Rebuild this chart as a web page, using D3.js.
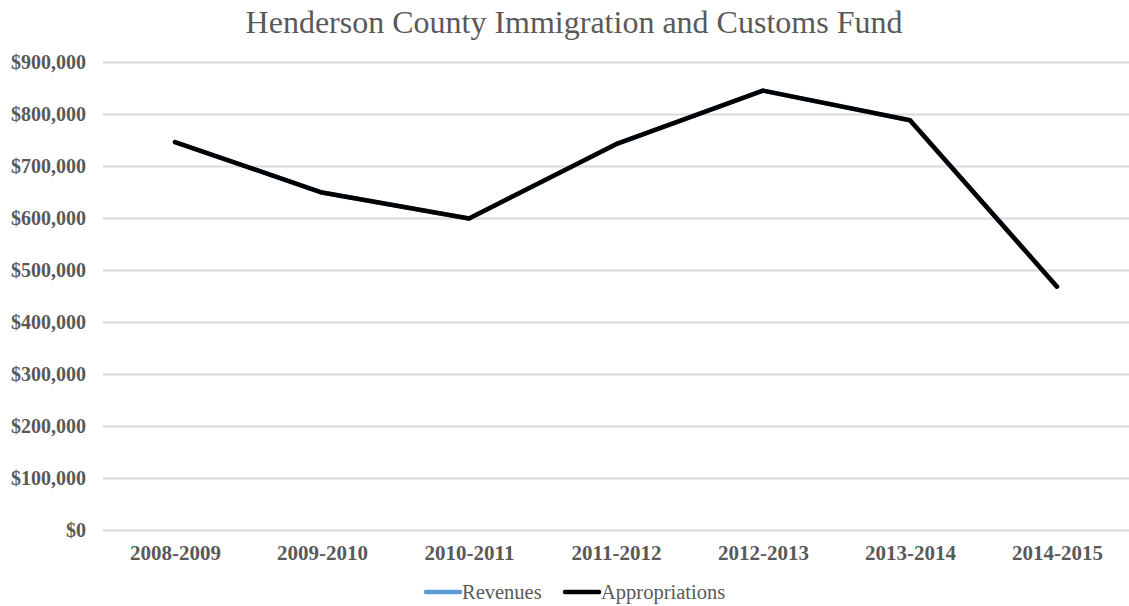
<!DOCTYPE html>
<html><head><meta charset="utf-8">
<script src="https://cdn.jsdelivr.net/npm/d3@7"></script>
<style>body{margin:0;background:#fff}</style>
</head><body>
<script>
const categories = ["2008-2009","2009-2010","2010-2011","2011-2012","2012-2013","2013-2014","2014-2015"];
const revenues = [746000, 649000, 599000, 742000, 845000, 788000, 468000];
const appropriations = [746000, 649000, 599000, 742000, 845000, 788000, 468000];
const yTicks = [0,100000,200000,300000,400000,500000,600000,700000,800000,900000];
const seriesNames = ["Revenues","Appropriations"];
const seriesColors = ["#5b9bd5","#000000"];

const W=1129,H=606;
const svg=d3.select("body").append("svg").attr("width",W).attr("height",H);
const font="'Liberation Serif','Times New Roman',serif";
const x=d3.scalePoint().domain(categories).range([175,1057]);
const y=d3.scaleLinear().domain([0,900000]).range([530,62]);

svg.append("text").attr("x",574).attr("y",33).attr("text-anchor","middle")
  .attr("font-family",font).attr("font-size",32).attr("fill","#595959")
  .text("Henderson County Immigration and Customs Fund");

const yAxis=d3.axisLeft(y).tickValues(yTicks).tickSize(-(1129-103))
  .tickFormat(d=>"$"+d3.format(",")(d));
const gy=svg.append("g").attr("transform","translate(103,0)").call(yAxis);
gy.select(".domain").remove();
gy.selectAll(".tick line").attr("stroke","#d9d9d9").attr("stroke-width",2);
gy.selectAll(".tick text").attr("x",-17).attr("font-family",font).attr("font-size",20)
  .attr("font-weight","bold").attr("fill","#595959");

const xAxis=d3.axisBottom(x).tickSize(0);
const gx=svg.append("g").attr("transform","translate(0,530)").call(xAxis);
gx.select(".domain").remove();
gx.selectAll(".tick text").attr("dy",0).attr("y",30).attr("font-family",font).attr("font-size",21)
  .attr("font-weight","bold").attr("fill","#595959");

const line=d3.line().x((d,i)=>x(categories[i])).y(d=>y(d));
[revenues,appropriations].forEach((s,k)=>{
  svg.append("path").datum(s).attr("d",line).attr("fill","none")
    .attr("stroke",seriesColors[k]).attr("stroke-width",4.5)
    .attr("stroke-linejoin","round").attr("stroke-linecap","round");
});

const leg=svg.append("g");
const legX=[426,565];
seriesNames.forEach((n,k)=>{
  leg.append("line").attr("x1",legX[k]).attr("x2",legX[k]+34).attr("y1",592).attr("y2",592)
    .attr("stroke",seriesColors[k]).attr("stroke-width",4.5).attr("stroke-linecap","round");
  leg.append("text").attr("x",legX[k]+36).attr("y",599).attr("font-family",font)
    .attr("font-size",20.5).attr("fill","#595959").text(n);
});
</script>
</body></html>
